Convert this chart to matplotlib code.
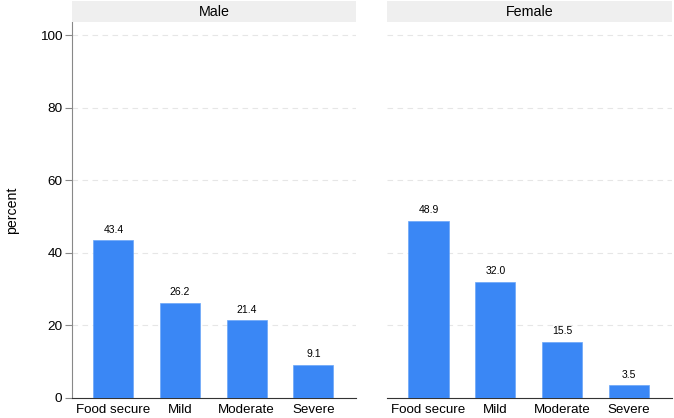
import matplotlib
matplotlib.use("Agg")
import matplotlib.pyplot as plt

plt.rcParams['font.family'] = ['Liberation Sans', 'DejaVu Sans']

categories = ["Food secure", "Mild", "Moderate", "Severe"]
panels = ["Male", "Female"]
male = [43.4, 26.2, 21.4, 9.1]
female = [48.9, 32.0, 15.5, 3.5]
yticks = [0, 20, 40, 60, 80, 100]

bar_color = "#3a87f5"

fig = plt.figure(figsize=(6.74, 4.18), dpi=100)
lefts = [72 / 674, 387 / 674]
widths = [284 / 674, 285 / 674]
bottom = 1 - 398 / 418
height = (398 - 22) / 418
strip_h = 21 / 418

for i, (name, vals) in enumerate(zip(panels, [male, female])):
    ax = fig.add_axes([lefts[i], bottom, widths[i], height])
    x = range(len(categories))
    bars = ax.bar(x, vals, width=0.6, color=bar_color, edgecolor="#6aa6f8", linewidth=0.5, zorder=3)
    for b, v in zip(bars, vals):
        ax.annotate(f"{v:.1f}", (b.get_x() + b.get_width() / 2, v), xytext=(0, 4),
                    textcoords="offset points", ha="center", va="bottom", fontsize=7.5)
    ax.set_xlim(-0.62, 3.64)
    ax.set_ylim(0, 103.6)
    ax.set_xticks(list(x))
    ax.set_xticklabels(categories, fontsize=9.6)
    ax.set_yticks(yticks)
    for t in yticks[1:]:
        ax.axhline(t, color="#e6e6e6", linestyle=(0, (5, 4)), linewidth=0.8, zorder=1)
    for s in ["top", "right"]:
        ax.spines[s].set_visible(False)
    ax.spines["bottom"].set_color("#333333")
    ax.spines["bottom"].set_linewidth(0.8)
    ax.tick_params(axis="x", length=0, pad=4)
    if i == 0:
        ax.spines["left"].set_color("#888888")
        ax.spines["left"].set_linewidth(0.8)
        ax.tick_params(axis="y", labelsize=9.7, length=5, color="#888888", pad=2)
        ax.set_ylabel("percent", fontsize=10.2, labelpad=15)
    else:
        ax.spines["left"].set_visible(False)
        ax.tick_params(axis="y", left=False, labelleft=False)

    sax = fig.add_axes([lefts[i], 1 - 22 / 418, widths[i], strip_h])
    sax.set_facecolor("#efefef")
    sax.set_xticks([])
    sax.set_yticks([])
    for s in sax.spines.values():
        s.set_visible(False)
    sax.text(0.5, 0.5, name, ha="center", va="center", fontsize=10.3, transform=sax.transAxes)

fig.savefig("out.png", dpi=100)
